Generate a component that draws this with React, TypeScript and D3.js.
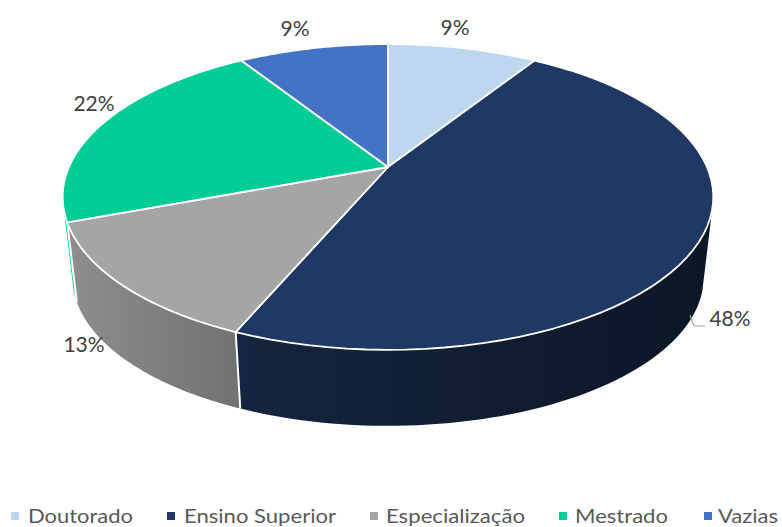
import React from 'react';
import * as d3 from 'd3';

const categories = ['Doutorado', 'Ensino Superior', 'Especialização', 'Mestrado', 'Vazias'];
const shares = [9.0, 47.4, 12.9, 21.7, 9.0];
const percentLabels = ['9%', '48%', '13%', '22%', '9%'];

const colors = ['#BDD7EE', '#1F3864', '#A5A5A5', '#00CC96', '#4472C4'];
const sideFrom = ['#8fa1b2', '#16253F', '#8E8E8E', '#00CC96', '#33558f'];
const sideTo = ['#8fa1b2', '#0B1626', '#727272', '#00CC96', '#33558f'];

const width = 782;
const height = 527;
const fontFamily = 'Lato, "Open Sans", sans-serif';

// tilted disc: centre of the pie, radius, vertical squash, perspective
const cx = 388;
const cy = 167;
const radius = 319;
const squash = 147;
const persp = 0.196;
const depth = 81.5;
const bottomScale = 0.97;
// the wall is only seen between these two angles
const wallStart = (106 * Math.PI) / 180;
const wallEnd = (257 * Math.PI) / 180;

const project = (a: number, scale = 1, dy = 0): [number, number] => {
  const u = Math.sin(a);
  const v = -Math.cos(a);
  const w = 1 - persp * v;
  return [cx + (scale * radius * u) / w, cy + dy + (scale * squash * v) / w];
};

const labelPos: [number, number][] = [[455, 35], [730, 326], [84, 352], [94, 111], [295, 36]];
const legendMarkerX = [11, 167, 370, 559, 704];
const legendTextX = [28, 184, 386, 575, 718];
const legendTextW = [105, 152, 139, 93, 60];

const slices = d3.pie<number>().value(d => d).sort(null)(shares);
const line = d3.line();

const rim = (start: number, end: number, scale = 1, dy = 0) =>
  d3.range(0, 61).map(i => project(start + ((end - start) * i) / 60, scale, dy));

export default function App() {
  const walls = slices
    .map((s, i) => ({ i, start: Math.max(s.startAngle, wallStart), end: Math.min(s.endAngle, wallEnd) }))
    .filter(w => w.start < w.end);

  return (
    <svg width={width} height={height} style={{ position: 'absolute', left: 0, top: 0, background: '#fff' }}>
      <defs>
        {walls.map(w => {
          const xs = rim(w.start, w.end).map(p => p[0]);
          return (
            <linearGradient key={w.i} id={`side-${w.i}`} gradientUnits="userSpaceOnUse"
              x1={d3.min(xs)} x2={d3.max(xs)} y1={0} y2={0}>
              <stop offset="0%" stopColor={sideFrom[w.i]} />
              <stop offset="100%" stopColor={sideTo[w.i]} />
            </linearGradient>
          );
        })}
      </defs>

      {walls.map(w => {
        const top = rim(w.start, w.end);
        const bottom = rim(w.start, w.end, bottomScale, depth).reverse();
        return <path key={w.i} d={line([...top, ...bottom])! + 'Z'} fill={`url(#side-${w.i})`} />;
      })}

      {/* white seams between the walls */}
      {slices.filter(s => s.endAngle > wallStart && s.endAngle < wallEnd).map((s, i) => (
        <path key={i} d={line([project(s.endAngle), project(s.endAngle, bottomScale, depth)])!}
          stroke="#fff" strokeWidth={2} fill="none" />
      ))}

      {slices.map((s, i) => {
        const pts = rim(s.startAngle, s.endAngle);
        return (
          <path key={i} d={line([[cx, cy], ...pts])! + 'Z'} fill={colors[i]}
            stroke="#fff" strokeWidth={1.8} strokeLinejoin="round" />
        );
      })}

      <polyline points="690,315 694,326 705,326" fill="none" stroke="#a6a6a6" strokeWidth={1.2} />

      {percentLabels.map((t, i) => (
        <text key={i} x={labelPos[i][0]} y={labelPos[i][1]} textAnchor="middle"
          fontFamily={fontFamily} fontSize={21} fill="#404040">{t}</text>
      ))}

      {categories.map((c, i) => (
        <g key={c}>
          <rect x={legendMarkerX[i]} y={512} width={8} height={8} fill={colors[i]} />
          <text x={legendTextX[i]} y={522.5} fontFamily={fontFamily} fontSize={20} fill="#595959"
            textLength={legendTextW[i]} lengthAdjust="spacingAndGlyphs">{c}</text>
        </g>
      ))}
    </svg>
  );
}
